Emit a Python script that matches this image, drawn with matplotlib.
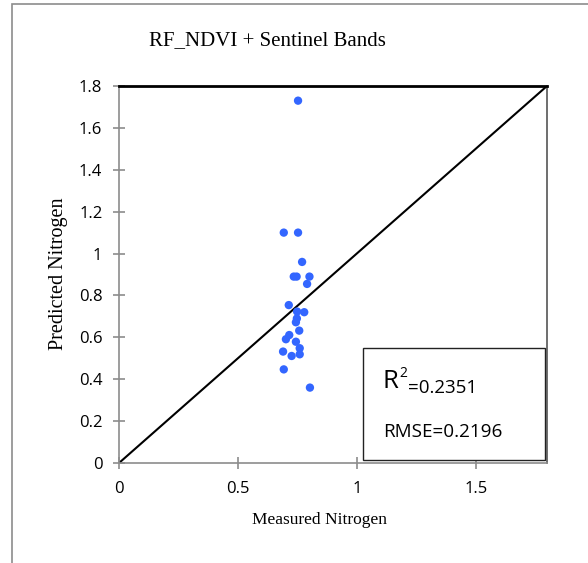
import matplotlib
matplotlib.use("Agg")
import matplotlib.pyplot as plt
from matplotlib.patches import Rectangle

measured = [0.753, 0.693, 0.753, 0.770, 0.735, 0.747, 0.801, 0.791, 0.714, 0.749,
            0.779, 0.748, 0.744, 0.758, 0.716, 0.702, 0.744, 0.760, 0.690, 0.726,
            0.760, 0.693, 0.803]
predicted = [1.73, 1.10, 1.10, 0.96, 0.89, 0.89, 0.89, 0.855, 0.754, 0.723,
             0.720, 0.69, 0.672, 0.632, 0.611, 0.591, 0.579, 0.548, 0.532, 0.511,
             0.519, 0.447, 0.360]
x_ticks = [0, 0.5, 1, 1.5]
x_tick_labels = ["0", "0.5", "1", "1.5"]
y_ticks = [0, 0.2, 0.4, 0.6, 0.8, 1.0, 1.2, 1.4, 1.6, 1.8]
y_tick_labels = ["0", "0.2", "0.4", "0.6", "0.8", "1", "1.2", "1.4", "1.6", "1.8"]
title = "RF_NDVI + Sentinel Bands"
r2_text = "=0.2351"
rmse_text = "RMSE=0.2196"

W, H = 588, 563
fig = plt.figure(figsize=(W / 100, H / 100), dpi=100)
fig.patch.set_facecolor("white")

# outer frame (only top and left visible in the reference)
fig.add_artist(Rectangle((12 / W, -0.1), 1.2, 1 - 4 / H + 0.1, transform=fig.transFigure,
                         fill=False, edgecolor="#8c8c8c", lw=1.2))

ax = fig.add_axes([119 / W, 1 - 463 / H, (547 - 119) / W, (463 - 86) / H])
ax.set_xlim(0, 1.8)
ax.set_ylim(0, 1.8)

grey = "#8c8c8c"
for s in ["left", "bottom", "right"]:
    ax.spines[s].set_color(grey)
    ax.spines[s].set_linewidth(1.2)
ax.spines["right"].set_color("#555555")
ax.spines["top"].set_color("black")
ax.spines["top"].set_linewidth(2)

ax.plot([0, 1.8], [0, 1.8], color="black", lw=1.5, zorder=2)
ax.scatter(measured, predicted, s=36, color="#3366FF", edgecolors="none", zorder=3)

ax.set_xticks(x_ticks)
ax.set_xticklabels(x_tick_labels)
ax.set_yticks(y_ticks)
ax.set_yticklabels(y_tick_labels)
ax.tick_params(axis="both", direction="inout", length=8, width=1.2, color=grey,
               labelsize=12)
ax.tick_params(axis="x", pad=9)
ax.tick_params(axis="y", pad=8)
for lbl in ax.get_xticklabels() + ax.get_yticklabels():
    lbl.set_family("Open Sans")

fig.text(319 / W, 1 - 520 / H, "Measured Nitrogen", family="Liberation Serif",
         fontsize=12.5, ha="center", va="center")
fig.text(59 / W, 1 - 274 / H, "Predicted Nitrogen", family="Liberation Serif",
         fontsize=14.5, ha="center", va="center", rotation=90)

fig.text(267 / W, 1 - 41 / H, title, family="Liberation Serif", fontsize=15,
         ha="center", va="center")

# statistics box
fig.add_artist(Rectangle((363 / W, 1 - 460 / H), (545 - 363) / W, (460 - 348) / H,
                         transform=fig.transFigure, fill=True, facecolor="white",
                         edgecolor="#222222", lw=1.0, zorder=5))
fig.text(382 / W, 1 - 388 / H, "R", family="Open Sans", fontsize=18.5,
         ha="left", va="baseline", zorder=6)
fig.text(399 / W, 1 - 377 / H, "2", family="Open Sans", fontsize=10,
         ha="left", va="baseline", zorder=6)
fig.text(408 / W, 1 - 393 / H, r2_text, family="Open Sans", fontsize=13.5,
         ha="left", va="baseline", zorder=6)
fig.text(383 / W, 1 - 432 / H, rmse_text, family="Open Sans", fontsize=13.6,
         ha="left", va="center", zorder=6)

fig.savefig("out.png", dpi=100)
